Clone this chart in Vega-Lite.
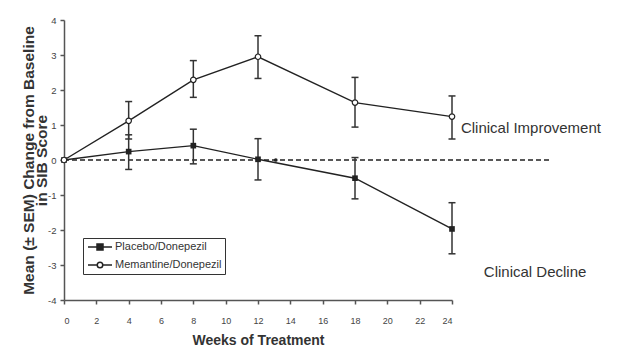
{
  "$schema": "https://vega.github.io/schema/vega-lite/v6.json",
  "width": 388,
  "height": 280,
  "autosize": {"type": "none"},
  "padding": {"left": 64, "top": 20, "right": 167, "bottom": 57},
  "background": "white",
  "datasets": {
    "series": [
      {"group": "Placebo/Donepezil", "week": 0, "mean": 0, "lo": null, "hi": null},
      {"group": "Placebo/Donepezil", "week": 4, "mean": 0.24, "lo": -0.27, "hi": 0.72},
      {"group": "Placebo/Donepezil", "week": 8, "mean": 0.41, "lo": -0.11, "hi": 0.88},
      {"group": "Placebo/Donepezil", "week": 12, "mean": 0.02, "lo": -0.57, "hi": 0.61},
      {"group": "Placebo/Donepezil", "week": 18, "mean": -0.52, "lo": -1.11, "hi": 0.07},
      {"group": "Placebo/Donepezil", "week": 24, "mean": -1.97, "lo": -2.68, "hi": -1.22},
      {"group": "Memantine/Donepezil", "week": 0, "mean": 0, "lo": null, "hi": null},
      {"group": "Memantine/Donepezil", "week": 4, "mean": 1.12, "lo": 0.6, "hi": 1.67},
      {"group": "Memantine/Donepezil", "week": 8, "mean": 2.29, "lo": 1.79, "hi": 2.84},
      {"group": "Memantine/Donepezil", "week": 12, "mean": 2.95, "lo": 2.33, "hi": 3.55},
      {"group": "Memantine/Donepezil", "week": 18, "mean": 1.64, "lo": 0.94, "hi": 2.36},
      {"group": "Memantine/Donepezil", "week": 24, "mean": 1.24, "lo": 0.6, "hi": 1.83}
    ],
    "baseline": [{"week": 0, "week2": 30, "mean": 0}],
    "stray": [{"week": 13.1, "mean": 0}],
    "notes": [
      {"label": "Clinical Improvement", "week": 24.55, "mean": 0.91},
      {"label": "Clinical Decline", "week": 25.97, "mean": -3.2}
    ]
  },
  "config": {
    "view": {"stroke": null},
    "font": "Liberation Sans, Arial, sans-serif"
  },
  "encoding": {
    "x": {"field": "week", "type": "quantitative", "scale": {"domain": [0, 24], "nice": false},
      "axis": {"title": "Weeks of Treatment", "values": [0, 2, 4, 6, 8, 10, 12, 14, 16, 18, 20, 22, 24], "labelOverlap": false, "labelExpr": "toString(datum.value)", "grid": false, "labelFontSize": 9, "labelColor": "#444", "labelPadding": 12, "tickSize": 4, "tickWidth": 1.5, "tickColor": "#555", "domainColor": "#555", "domainWidth": 1.5, "titleFontSize": 14, "titleFontWeight": "bold", "titleColor": "#333", "titleBaseline": "middle", "titleY": 40}},
    "y": {"field": "mean", "type": "quantitative", "scale": {"domain": [-4, 4], "nice": false},
      "axis": {"title": ["Mean (± SEM) Change from Baseline", "in SIB Score"], "values": [-4, -3, -2, -1, 0, 1, 2, 3, 4], "labelOverlap": false, "labelExpr": "toString(datum.value)", "grid": false, "labelFontSize": 9.5, "labelColor": "#444", "labelPadding": 4, "tickSize": 4, "tickWidth": 1.5, "tickColor": "#555", "domainColor": "#555", "domainWidth": 1.5, "titleFontSize": 15.5, "titleFontWeight": "bold", "titleColor": "#333", "titleBaseline": "middle", "titleX": -36, "titleLineHeight": 13}}
  },
  "layer": [
    {
      "data": {"name": "baseline"},
      "mark": {"type": "rule", "strokeDash": [5, 3], "strokeWidth": 1.6, "color": "#222"},
      "encoding": {
        "x2": {"field": "week2"}
      }
    },
    {
      "data": {"name": "series"},
      "transform": [{"filter": "datum.lo != null"}],
      "mark": {"type": "rule", "strokeWidth": 1.5, "color": "#333"},
      "encoding": {
        "y": {"field": "lo", "type": "quantitative", "scale": {"domain": [-4, 4], "nice": false},
          "axis": {"title": ["Mean (± SEM) Change from Baseline", "in SIB Score"], "values": [-4, -3, -2, -1, 0, 1, 2, 3, 4], "labelOverlap": false, "labelExpr": "toString(datum.value)", "grid": false, "labelFontSize": 9.5, "labelColor": "#444", "labelPadding": 4, "tickSize": 4, "tickWidth": 1.5, "tickColor": "#555", "domainColor": "#555", "domainWidth": 1.5, "titleFontSize": 15.5, "titleFontWeight": "bold", "titleColor": "#333", "titleBaseline": "middle", "titleX": -36, "titleLineHeight": 13}},
        "y2": {"field": "hi"}
      }
    },
    {
      "data": {"name": "series"},
      "transform": [{"filter": "datum.lo != null"}],
      "mark": {"type": "tick", "orient": "horizontal", "size": 7, "thickness": 1.5, "color": "#333", "opacity": 1},
      "encoding": {
        "y": {"field": "lo", "type": "quantitative", "scale": {"domain": [-4, 4], "nice": false},
          "axis": {"title": ["Mean (± SEM) Change from Baseline", "in SIB Score"], "values": [-4, -3, -2, -1, 0, 1, 2, 3, 4], "labelOverlap": false, "labelExpr": "toString(datum.value)", "grid": false, "labelFontSize": 9.5, "labelColor": "#444", "labelPadding": 4, "tickSize": 4, "tickWidth": 1.5, "tickColor": "#555", "domainColor": "#555", "domainWidth": 1.5, "titleFontSize": 15.5, "titleFontWeight": "bold", "titleColor": "#333", "titleBaseline": "middle", "titleX": -36, "titleLineHeight": 13}}
      }
    },
    {
      "data": {"name": "series"},
      "transform": [{"filter": "datum.lo != null"}],
      "mark": {"type": "tick", "orient": "horizontal", "size": 7, "thickness": 1.5, "color": "#333", "opacity": 1},
      "encoding": {
        "y": {"field": "hi", "type": "quantitative", "scale": {"domain": [-4, 4], "nice": false},
          "axis": {"title": ["Mean (± SEM) Change from Baseline", "in SIB Score"], "values": [-4, -3, -2, -1, 0, 1, 2, 3, 4], "labelOverlap": false, "labelExpr": "toString(datum.value)", "grid": false, "labelFontSize": 9.5, "labelColor": "#444", "labelPadding": 4, "tickSize": 4, "tickWidth": 1.5, "tickColor": "#555", "domainColor": "#555", "domainWidth": 1.5, "titleFontSize": 15.5, "titleFontWeight": "bold", "titleColor": "#333", "titleBaseline": "middle", "titleX": -36, "titleLineHeight": 13}}
      }
    },
    {
      "data": {"name": "series"},
      "mark": {"type": "line", "strokeWidth": 1.4, "color": "#222"},
      "encoding": {
        "detail": {"field": "group"}
      }
    },
    {
      "data": {"name": "series"},
      "transform": [{"filter": "datum.group === 'Placebo/Donepezil'"}],
      "mark": {"type": "point", "shape": "square", "size": 32, "filled": true, "color": "#222", "opacity": 1}
    },
    {
      "data": {"name": "series"},
      "transform": [{"filter": "datum.group === 'Memantine/Donepezil'"}],
      "mark": {"type": "point", "shape": "circle", "size": 30, "fill": "white", "stroke": "#222", "strokeWidth": 1.2, "opacity": 1}
    },
    {
      "data": {"name": "series"},
      "transform": [{"filter": "false"}],
      "mark": {"type": "point", "filled": false, "fill": "white", "stroke": "#222", "strokeWidth": 1.2, "opacity": 1},
      "encoding": {
        "shape": {"field": "group", "type": "nominal",
          "scale": {"domain": ["Placebo/Donepezil", "Memantine/Donepezil"],
            "range": ["M-0.8,0H4M1,-0.6H2.2V0.6H1ZM1,-0.3H2.2M1,0.3H2.2", "M-0.8,0H1.05M2.15,0H4M1.05,0A0.55,0.55 0 1,1 2.15,0A0.55,0.55 0 1,1 1.05,0Z"]},
          "legend": {"title": null, "orient": "none", "legendX": 19, "legendY": 218, "strokeColor": "#333", "padding": 3, "symbolSize": 100, "labelOffset": 17, "rowPadding": 6, "labelFontSize": 11, "labelColor": "#333",
            "encode": {"symbols": {
              "fill": {"value": "white"},
              "stroke": {"value": "#222"},
              "strokeWidth": {"value": 1.2},
              "opacity": {"value": 1}
            }}}}
      }
    },
    {
      "data": {"name": "stray"},
      "mark": {"type": "point", "filled": true, "size": 14, "color": "#222", "opacity": 1}
    },
    {
      "data": {"name": "notes"},
      "mark": {"type": "text", "align": "left", "baseline": "middle", "fontSize": 15, "color": "#333"},
      "encoding": {
        "text": {"field": "label"}
      }
    }
  ]
}
